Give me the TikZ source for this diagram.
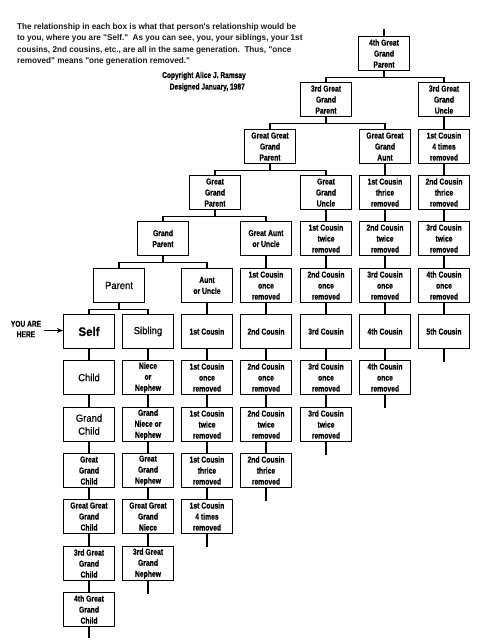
\documentclass[tikz,border=0pt]{standalone}
\usepackage{fontspec}
\usetikzlibrary{arrows.meta}
\setmainfont{Liberation Sans}
\newfontfamily\narrowbf[FakeStretch=0.78,FakeBold=0.6]{Liberation Sans}
\newfontfamily\plainsans[FakeStretch=0.92,FakeBold=0.5]{Liberation Sans}
\newfontfamily\headfont[FakeStretch=0.97]{Liberation Sans}
\tikzset{
  box/.style={draw=black, line width=1.2pt, minimum width=51pt, minimum height=34pt,
    inner sep=0pt, align=center, text=black,
    font=\narrowbf\bfseries\fontsize{8.7}{11}\selectfont},
  pbox/.style={box, font=\plainsans\fontsize{10.3}{13}\selectfont},
  conn/.style={line width=1.2pt, draw=black},
  headline/.style={anchor=base west, inner sep=0pt, text=black!90,
    font=\headfont\bfseries\fontsize{8.4}{10}\selectfont},
  smalltxt/.style={inner sep=0pt, align=center, text=black,
    font=\narrowbf\bfseries\fontsize{8.5}{10.5}\selectfont}
}
\begin{document}
\begin{tikzpicture}[x=1pt,y=-1pt]
\useasboundingbox (0,0) rectangle (483,641);
% header text
\node[headline] (h1) at (17,29) {The relationship in each box is what that person's relationship would be};
\node[headline] (h2) at (17,40.5) {to you, where you are "Self."\ \ As you can see, you, your siblings, your 1st};
\node[headline] (h3) at (17,52) {cousins, 2nd cousins, etc., are all in the same generation.\ \ Thus, "once};
\node[headline] (h4) at (17,63.5) {removed" means "one generation removed."};
\node[smalltxt, anchor=base east] (cr1) at (246,78) {Copyright Alice J. Ramsay};
\node[smalltxt, anchor=base east] (cr2) at (245,89.5) {Designed January, 1987};

% ancestors
\node[box] (p4) at (384,53.5) {4th Great\\Grand\\Parent};
\node[box] (p3) at (326,99.5) {3rd Great\\Grand\\Parent};
\node[box] (p2) at (270,146.5) {Great Great\\Grand\\Parent};
\node[box] (p1) at (215,192.5) {Great\\Grand\\Parent};
\node[box] (gp) at (163,238.5) {Grand\\Parent};
\node[pbox] (par) at (119,285.5) {Parent};

% column 1
\node[pbox, font=\plainsans\bfseries\fontsize{12.5}{15}\selectfont] (self) at (89,331.5) {Self};
\node[pbox] (child) at (89,377.5) {Child};
\node[pbox] (gchild) at (89,424.5) {Grand\\Child};
\node[box] (ggchild) at (89,470.5) {Great\\Grand\\Child};
\node[box] (gggchild) at (89,516.5) {Great Great\\Grand\\Child};
\node[box] (g3child) at (89,563.5) {3rd Great\\Grand\\Child};
\node[box] (g4child) at (89,609.5) {4th Great\\Grand\\Child};

% column 2
\node[pbox] (sib) at (148,331.5) {Sibling};
\node[box] (niece) at (148,377.5) {Niece\\or\\Nephew};
\node[box] (gniece) at (148,424.5) {Grand\\Niece or\\Nephew};
\node[box] (ggneph) at (148,470.5) {Great\\Grand\\Nephew};
\node[box] (gggniece) at (148,516.5) {Great Great\\Grand\\Niece};
\node[box] (g3neph) at (148,563.5) {3rd Great\\Grand\\Nephew};

% column 3
\node[box] (aunt) at (207,285.5) {Aunt\\or Uncle};
\node[box] (c1) at (207,331.5) {1st Cousin};
\node[box] (c1r1) at (207,377.5) {1st Cousin\\once\\removed};
\node[box] (c1r2) at (207,424.5) {1st Cousin\\twice\\removed};
\node[box] (c1r3) at (207,470.5) {1st Cousin\\thrice\\removed};
\node[box] (c1r4) at (207,516.5) {1st Cousin\\4 times\\removed};

% column 4
\node[box] (gaunt) at (266,238.5) {Great Aunt\\or Uncle};
\node[box] (d1r1) at (266,285.5) {1st Cousin\\once\\removed};
\node[box] (d2) at (266,331.5) {2nd Cousin};
\node[box] (d2r1) at (266,377.5) {2nd Cousin\\once\\removed};
\node[box] (d2r2) at (266,424.5) {2nd Cousin\\twice\\removed};
\node[box] (d2r3) at (266,470.5) {2nd Cousin\\thrice\\removed};

% column 5
\node[box] (gguncle) at (326,192.5) {Great\\Grand\\Uncle};
\node[box] (e1r2) at (326,238.5) {1st Cousin\\twice\\removed};
\node[box] (e2r1) at (326,285.5) {2nd Cousin\\once\\removed};
\node[box] (e3) at (326,331.5) {3rd Cousin};
\node[box] (e3r1) at (326,377.5) {3rd Cousin\\once\\removed};
\node[box] (e3r2) at (326,424.5) {3rd Cousin\\twice\\removed};

% column 6
\node[box] (gggaunt) at (385,146.5) {Great Great\\Grand\\Aunt};
\node[box] (f1r3) at (385,192.5) {1st Cousin\\thrice\\removed};
\node[box] (f2r2) at (385,238.5) {2nd Cousin\\twice\\removed};
\node[box] (f3r1) at (385,285.5) {3rd Cousin\\once\\removed};
\node[box] (f4) at (385,331.5) {4th Cousin};
\node[box] (f4r1) at (385,377.5) {4th Cousin\\once\\removed};

% column 7
\node[box] (g3uncle) at (444,99.5) {3rd Great\\Grand\\Uncle};
\node[box] (h1r4) at (444,146.5) {1st Cousin\\4 times\\removed};
\node[box] (h2r3) at (444,192.5) {2nd Cousin\\thrice\\removed};
\node[box] (h3r2) at (444,238.5) {3rd Cousin\\twice\\removed};
\node[box] (h4r1) at (444,285.5) {4th Cousin\\once\\removed};
\node[box] (h5) at (444,331.5) {5th Cousin};

% you are here
\node[smalltxt] (here) at (26,329) {YOU ARE\\HERE};
\draw[conn, -{Stealth[length=6pt,width=5pt]}] (here.east) ++(3,1.5) coordinate (ah) -- (self.west |- ah);

% ancestor branches
\draw[conn] (p4.north) -- ++(0,-7);
\draw[conn] (p4.south) -- ++(0,6) -| (p3.north);
\draw[conn] (p4.south) -- ++(0,6) -| (g3uncle.north);
\draw[conn] (p3.south) -- ++(0,6) -| (p2.north);
\draw[conn] (p3.south) -- ++(0,6) -| (gggaunt.north);
\draw[conn] (p2.south) -- ++(0,6) -| (p1.north);
\draw[conn] (p2.south) -- ++(0,6) -| (gguncle.north);
\draw[conn] (p1.south) -- ++(0,6) -| (gp.north);
\draw[conn] (p1.south) -- ++(0,6) -| (gaunt.north);
\draw[conn] (gp.south) -- ++(0,6) -| (par.north);
\draw[conn] (gp.south) -- ++(0,6) -| (aunt.north);
\draw[conn] (par.south) -- ++(0,6) -| (self.north);
\draw[conn] (par.south) -- ++(0,6) -| (sib.north);

% column chains
\draw[conn] (self.south) -- (child.north) (child.south) -- (gchild.north)
  (gchild.south) -- (ggchild.north) (ggchild.south) -- (gggchild.north)
  (gggchild.south) -- (g3child.north) (g3child.south) -- (g4child.north)
  (g4child.south) -- ++(0,11);
\draw[conn] (sib.south) -- (niece.north) (niece.south) -- (gniece.north)
  (gniece.south) -- (ggneph.north) (ggneph.south) -- (gggniece.north)
  (gggniece.south) -- (g3neph.north) (g3neph.south) -- ++(0,13);
\draw[conn] (aunt.south) -- (c1.north) (c1.south) -- (c1r1.north)
  (c1r1.south) -- (c1r2.north) (c1r2.south) -- (c1r3.north)
  (c1r3.south) -- (c1r4.north) (c1r4.south) -- ++(0,13);
\draw[conn] (gaunt.south) -- (d1r1.north) (d1r1.south) -- (d2.north)
  (d2.south) -- (d2r1.north) (d2r1.south) -- (d2r2.north)
  (d2r2.south) -- (d2r3.north) (d2r3.south) -- ++(0,13);
\draw[conn] (gguncle.south) -- (e1r2.north) (e1r2.south) -- (e2r1.north)
  (e2r1.south) -- (e3.north) (e3.south) -- (e3r1.north)
  (e3r1.south) -- (e3r2.north) (e3r2.south) -- ++(0,13);
\draw[conn] (gggaunt.south) -- (f1r3.north) (f1r3.south) -- (f2r2.north)
  (f2r2.south) -- (f3r1.north) (f3r1.south) -- (f4.north)
  (f4.south) -- (f4r1.north) (f4r1.south) -- ++(0,13);
\draw[conn] (g3uncle.south) -- (h1r4.north) (h1r4.south) -- (h2r3.north)
  (h2r3.south) -- (h3r2.north) (h3r2.south) -- (h4r1.north)
  (h4r1.south) -- (h5.north) (h5.south) -- ++(0,13);
\end{tikzpicture}
\end{document}
